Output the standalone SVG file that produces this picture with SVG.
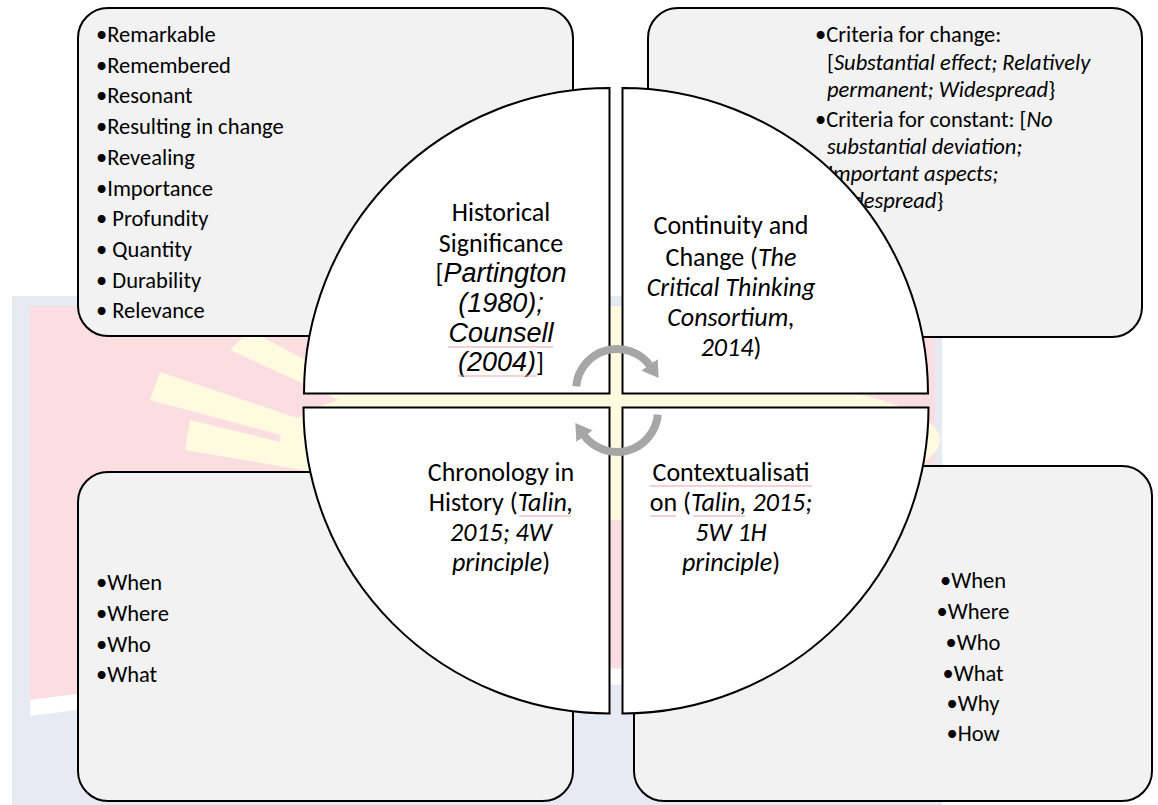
<svg xmlns="http://www.w3.org/2000/svg" width="1158" height="805" viewBox="0 0 1158 805">
<style>
.bg { stroke:none; }
.box { fill:#f2f2f2; stroke:#000; stroke-width:2; }
.quad { fill:#fff; stroke:#000; stroke-width:2; }
.t { font-family: Carlito, Lato, "Liberation Sans", sans-serif; font-size:22.5px; fill:#000; }
.c { font-size:26px; text-anchor:middle; }
.m { text-anchor:middle; }
.i { font-style:italic; }
.a { font-family:"Liberation Sans", Arial, sans-serif; font-style:italic; font-size:27px; }
.arc { fill:none; stroke:#a6a6a6; stroke-width:8; }
.sq { fill:none; stroke:#eba3ab; stroke-width:1; }
</style>
<defs>
<marker id="ah" viewBox="0 0 8 10" refX="1" refY="5" markerWidth="2" markerHeight="2.5" orient="auto" markerUnits="strokeWidth">
<path d="M0,0 L8,5 L0,10 z" fill="#a6a6a6"/>
</marker>
</defs>
<rect width="1158" height="805" fill="#fff"/>
<g id="watermark" class="bg">
<rect x="12" y="296" width="930" height="509" fill="#e7eaf2"/>
<path d="M30 306 H935 V690 Q480 640 30 700 Z" fill="#fbdee1"/>
<path d="M30 700 Q480 640 935 690 L935 706 Q480 656 30 716 Z" fill="#ffffff"/>
<g fill="#fffae0">
<path d="M600 520 L160 372 L150 400 Z"/>
<path d="M600 520 L190 420 L185 450 Z"/>
<path d="M600 520 L250 330 L230 350 Z"/>
<path d="M600 520 L330 310 L305 318 Z"/>
<ellipse cx="610" cy="440" rx="330" ry="70"/>
<path d="M560 306 H680 V520 H560 Z"/>
</g>
</g>
<g id="box-tl"><rect class="box" x="78" y="8" width="495" height="328" rx="30"/>
<text class="t" x="96" y="42">•Remarkable</text>
<text class="t" x="96" y="72.7">•Remembered</text>
<text class="t" x="96" y="103.4">•Resonant</text>
<text class="t" x="96" y="134.1">•Resulting in change</text>
<text class="t" x="96" y="164.8">•Revealing</text>
<text class="t" x="96" y="195.5">•Importance</text>
<text class="t" x="96" y="226.2">• Profundity</text>
<text class="t" x="96" y="256.9">• Quantity</text>
<text class="t" x="96" y="287.6">• Durability</text>
<text class="t" x="96" y="318.3">• Relevance</text>
</g>
<g id="box-tr"><rect class="box" x="648" y="8" width="494" height="329" rx="30"/>
<text class="t" x="815" y="42">•Criteria for change:</text>
<text class="t" x="827" y="70">[<tspan class="i">Substantial effect; Relatively</tspan></text>
<text class="t" x="827" y="97"><tspan class="i">permanent; Widespread</tspan>}</text>
<text class="t" x="815" y="127">•Criteria for constant: [<tspan class="i">No</tspan></text>
<text class="t i" x="827" y="154">substantial deviation;</text>
<text class="t i" x="827" y="181">Important aspects;</text>
<text class="t" x="827" y="208"><tspan class="i">Widespread</tspan>}</text>
</g>
<g id="box-bl"><rect class="box" x="78" y="472" width="495" height="329" rx="30"/>
<text class="t" x="96" y="590">•When</text>
<text class="t" x="96" y="621">•Where</text>
<text class="t" x="96" y="652">•Who</text>
<text class="t" x="96" y="682">•What</text>
</g>
<g id="box-br"><rect class="box" x="634" y="466" width="518" height="335" rx="30"/>
<text class="t m" x="973" y="588">•When</text>
<text class="t m" x="973" y="619">•Where</text>
<text class="t m" x="973" y="650">•Who</text>
<text class="t m" x="973" y="681">•What</text>
<text class="t m" x="973" y="711">•Why</text>
<text class="t m" x="973" y="741">•How</text>
</g>
<g id="q-historical">
<path class="quad" d="M609.5 393.5 H304 A305.5 305.5 0 0 1 609.5 88 Z"/>
<text class="t c" x="501" y="221">Historical</text>
<text class="t c" x="501" y="252">Significance</text>
<text class="t c" x="501" y="282">[<tspan class="a">Partington</tspan></text>
<text class="t c a" x="501" y="312">(1980);</text>
<text class="t c a" x="501" y="342">Counsell</text>
<text class="t c" x="501" y="371"><tspan class="a">(2004)</tspan>]</text>
<path class="sq" d="M448 347 H553 M458 376 H537"/>
</g>
<g id="q-continuity">
<path class="quad" d="M622.5 393.5 V88 A305.5 305.5 0 0 1 928 393.5 Z"/>
<text class="t c" x="731" y="234">Continuity and</text>
<text class="t c" x="731" y="266">Change (<tspan class="i">The</tspan></text>
<text class="t c i" x="731" y="296">Critical Thinking</text>
<text class="t c i" x="731" y="326">Consortium,</text>
<text class="t c" x="731" y="356"><tspan class="i">2014</tspan>)</text>
</g>
<g id="q-chronology">
<path class="quad" d="M609.5 407.5 V713.5 A306 306 0 0 1 303.5 407.5 Z"/>
<text class="t c" x="501" y="481">Chronology in</text>
<text class="t c" x="501" y="511">History (<tspan class="i">Talin,</tspan></text>
<text class="t c i" x="501" y="541">2015; 4W</text>
<text class="t c" x="501" y="571"><tspan class="i">principle</tspan>)</text>
<path class="sq" d="M519 516 H571"/>
</g>
<g id="q-context">
<path class="quad" d="M622.5 407.5 H928.5 A306 306 0 0 1 622.5 713.5 Z"/>
<text class="t c" x="731" y="481">Contextualisati</text>
<text class="t c" x="731" y="511">on (<tspan class="i">Talin, 2015;</tspan></text>
<text class="t c i" x="731" y="541">5W 1H</text>
<text class="t c" x="731" y="571"><tspan class="i">principle</tspan>)</text>
<path class="sq" d="M650 486 H812 M650 516 H676 M693 516 H745"/>
</g>
<g id="connectors">
<path class="arc" d="M576.2 386.4 A41 41 0 0 1 650.6 366.5" marker-end="url(#ah)"/>
<path class="arc" d="M657.8 414.6 A41 41 0 0 1 583.4 434.5" marker-end="url(#ah)"/>
</g>
</svg>
